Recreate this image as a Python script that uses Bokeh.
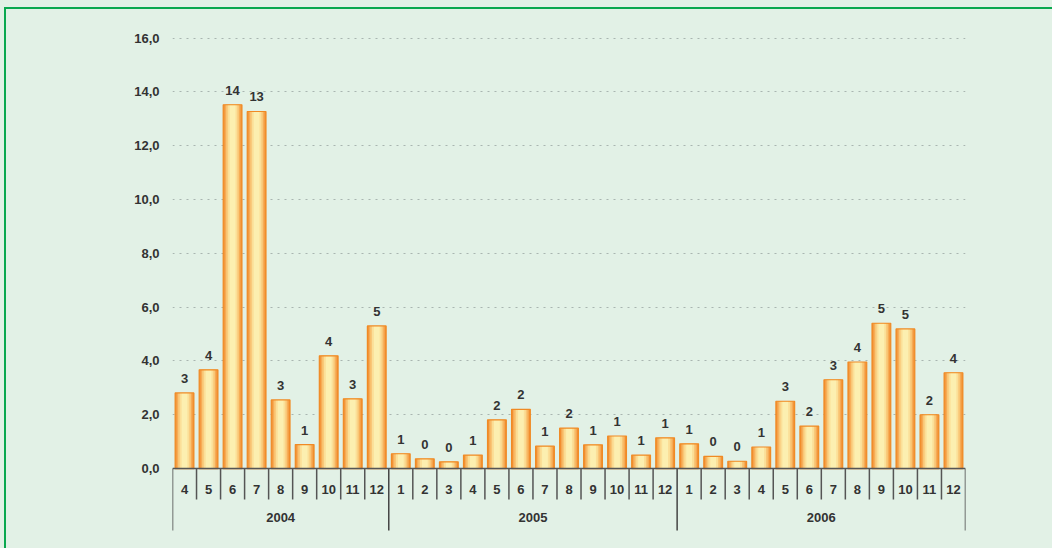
import math
from bokeh.plotting import figure
from bokeh.models import (FactorRange, Range1d, ColumnDataSource, FixedTicker,
                          LabelSet, GlobalInlineStyleSheet)
from bokeh.core.properties import value
from bokeh.embed import file_html
from bokeh.resources import INLINE

# ---- data ----
years = ["2004", "2005", "2006"]
months_2004 = [4, 5, 6, 7, 8, 9, 10, 11, 12]
months_2005 = [1, 2, 3, 4, 5, 6, 7, 8, 9, 10, 11, 12]
months_2006 = [1, 2, 3, 4, 5, 6, 7, 8, 9, 10, 11, 12]
values_2004 = [2.81, 3.67, 13.52, 13.27, 2.55, 0.89, 4.19, 2.59, 5.30]
values_2005 = [0.55, 0.36, 0.25, 0.50, 1.81, 2.20, 0.83, 1.50, 0.88, 1.21, 0.50, 1.14]
values_2006 = [0.92, 0.45, 0.27, 0.80, 2.50, 1.58, 3.30, 3.96, 5.40, 5.19, 2.00, 3.56]
y_ticks = [0, 2, 4, 6, 8, 10, 12, 14, 16]

months_by_year = [months_2004, months_2005, months_2006]
values_by_year = [values_2004, values_2005, values_2006]

factors, values = [], []
for yr, ms, vs in zip(years, months_by_year, values_by_year):
    for m, v in zip(ms, vs):
        factors.append((yr, str(m)))
        values.append(v)
labels = [str(math.floor(v + 0.5)) for v in values]

src = ColumnDataSource(dict(x=factors, top=values, label=labels))

FONT = "Liberation Sans"
TXT = "#333333"
BG = "#e2f1e6"

css = GlobalInlineStyleSheet(css=(
    "html,body{background:%s;margin:0;padding:0;}"
    "body::before{content:'';position:fixed;left:4px;top:7px;right:0;bottom:0;"
    "border-top:2.5px solid #0aa84f;border-left:2.5px solid #0aa84f;"
    "pointer-events:none;z-index:10;}" % BG))

p = figure(
    x_range=FactorRange(*factors, factor_padding=0, group_padding=0, range_padding=0),
    y_range=Range1d(-2.34, 16.02),
    width=1044, height=540,
    output_backend="svg", toolbar_location=None,
    min_border_left=172, min_border_right=79, min_border_top=37, min_border_bottom=9,
)
p.stylesheets = [css]
p.background_fill_color = BG
p.border_fill_color = BG
p.outline_line_color = None

# grid
p.xgrid.visible = False
p.ygrid.ticker = FixedTicker(ticks=y_ticks[1:])
p.ygrid.grid_line_color = "#a9b5b0"
p.ygrid.grid_line_dash = "2 5"
p.ygrid.grid_line_width = 1

# y axis
p.yaxis.ticker = FixedTicker(ticks=y_ticks)
p.yaxis.major_label_overrides = {float(t): ("%.1f" % t).replace(".", ",") for t in y_ticks}
p.yaxis.axis_line_color = None
p.yaxis.major_tick_line_color = None
p.yaxis.major_tick_out = 0
p.yaxis.major_tick_in = 0
p.yaxis.minor_tick_line_color = None
p.yaxis.major_label_standoff = 13
p.yaxis.major_label_text_font = FONT
p.yaxis.major_label_text_font_size = "13px"
p.yaxis.major_label_text_font_style = "bold"
p.yaxis.major_label_text_color = TXT

# x axis at zero
xa = p.xaxis[0]
xa.fixed_location = 0
xa.axis_line_color = "#555555"
xa.axis_line_width = 1.5
xa.major_tick_line_color = None
xa.major_tick_out = 0
xa.major_tick_in = 0
xa.minor_tick_line_color = None
xa.major_label_standoff = 16
xa.major_label_text_font = FONT
xa.major_label_text_font_size = "13px"
xa.major_label_text_font_style = "bold"
xa.major_label_text_color = TXT
xa.group_text_font = FONT
xa.group_text_font_size = "13px"
xa.group_text_font_style = "bold"
xa.group_text_color = TXT
try:
    xa.separator_line_color = None
except Exception:
    pass

# separators (synthetic factor coordinates: boundaries at integers)
year_bounds = [0]
for ms in months_by_year:
    year_bounds.append(year_bounds[-1] + len(ms))
month_bounds = [k for k in range(year_bounds[-1] + 1) if k not in year_bounds]
p.segment(x0=month_bounds, y0=[0] * len(month_bounds), x1=month_bounds,
          y1=[-1.15] * len(month_bounds), line_color="#555555", line_width=1.5)
p.segment(x0=year_bounds, y0=[0] * len(year_bounds), x1=year_bounds,
          y1=[-2.3] * len(year_bounds), line_color="#444444", line_width=1.5)

# bars with a simulated horizontal gradient
layers = [(0.78, "#f29033"), (0.66, "#f6ab55"), (0.54, "#f9c676"),
          (0.40, "#fbdf98"), (0.24, "#fcefb0")]
for w, c in layers:
    p.vbar(x="x", top="top", bottom=0, width=w, source=src,
           fill_color=c, line_color=None)
p.vbar(x="x", top="top", bottom=0, width=0.78, source=src,
       fill_color=None, line_color="#f08a24", line_width=1.2)

lbl = LabelSet(x="x", y="top", text="label", source=src,
               text_align="center", text_baseline="bottom", y_offset=10,
               text_font=value(FONT), text_font_size="13px",
               text_font_style="bold", text_color=TXT)
p.add_layout(lbl)

open("out.html", "w").write(file_html(p, INLINE))
